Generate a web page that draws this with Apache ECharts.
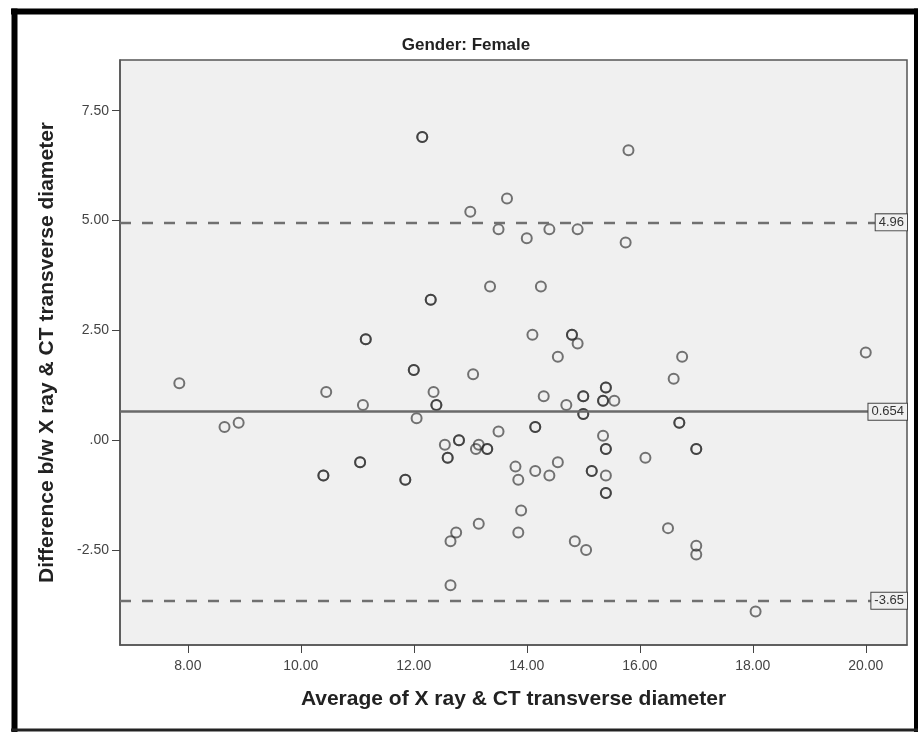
<!DOCTYPE html>
<html>
<head>
<meta charset="utf-8">
<title>Gender: Female</title>
<script src="https://cdn.jsdelivr.net/npm/echarts@6/dist/echarts.min.js"></script>
<style>
html, body { margin: 0; padding: 0; background: #fff; }
#main { width: 919px; height: 733px; }
</style>
</head>
<body>
<div id="main"></div>
<script>
// averages (x) and differences (y), darker rings are listed twice
var avgValues = [
	7.85, 8.65, 8.9, 10.4, 10.4, 10.45, 11.05, 11.05, 11.1, 11.15, 11.15,
	11.85, 11.85, 12.0, 12.0, 12.05, 12.15, 12.15, 12.3, 12.3, 12.35, 12.4, 12.4,
	12.55, 12.6, 12.6, 12.65, 12.65, 12.75, 12.8, 12.8, 13.0, 13.05, 13.1, 13.15,
	13.15, 13.3, 13.3, 13.35, 13.5, 13.5, 13.65, 13.8, 13.85, 13.85, 13.9, 14.0,
	14.1, 14.15, 14.15, 14.15, 14.25, 14.3, 14.4, 14.4, 14.55, 14.55, 14.7, 14.8,
	14.8, 14.85, 14.9, 14.9, 15.0, 15.0, 15.0, 15.0, 15.05, 15.15, 15.15, 15.35,
	15.35, 15.35, 15.4, 15.4, 15.4, 15.4, 15.4, 15.4, 15.4, 15.55, 15.75, 15.8,
	16.1, 16.5, 16.6, 16.7, 16.7, 16.75, 17.0, 17.0, 17.0, 17.0, 18.05, 20.0
];
var diffValues = [
	1.3, 0.3, 0.4, -0.8, -0.8, 1.1, -0.5, -0.5, 0.8, 2.3, 2.3,
	-0.9, -0.9, 1.6, 1.6, 0.5, 6.9, 6.9, 3.2, 3.2, 1.1, 0.8, 0.8,
	-0.1, -0.4, -0.4, -2.3, -3.3, -2.1, 0.0, 0.0, 5.2, 1.5, -0.2, -0.1,
	-1.9, -0.2, -0.2, 3.5, 4.8, 0.2, 5.5, -0.6, -0.9, -2.1, -1.6, 4.6,
	2.4, 0.3, 0.3, -0.7, 3.5, 1.0, 4.8, -0.8, 1.9, -0.5, 0.8, 2.4,
	2.4, -2.3, 4.8, 2.2, 1.0, 1.0, 0.6, 0.6, -2.5, -0.7, -0.7, 0.9,
	0.9, 0.1, 1.2, 1.2, -0.2, -0.2, -0.8, -1.2, -1.2, 0.9, 4.5, 6.6,
	-0.4, -2.0, 1.4, 0.4, 0.4, 1.9, -0.2, -0.2, -2.4, -2.6, -3.9, 2.0
];
var xTicks = [8, 10, 12, 14, 16, 18, 20];
var yTicks = [-2.5, 0, 2.5, 5, 7.5];
var meanDiff = 0.654;
var upperLimit = 4.96;
var lowerLimit = -3.65;

function tickText(v) {
	if (v === 0) return '.00';
	return v.toFixed(2);
}

function buildChart()
{
	var myChart = echarts.init(document.getElementById('main'));

	var points = [];
	for (var i = 0; i < avgValues.length; i++) {
		points.push([avgValues[i], diffValues[i]]);
	}

	var lineLabel = {
		show: true,
		position: 'insideEnd',
		distance: 0,
		color: '#333',
		fontSize: 13,
		backgroundColor: '#f0f0f0',
		borderColor: '#444',
		borderWidth: 1,
		padding: [2, 3, 1, 3]
	};

	var option = {
		animation: false,
		backgroundColor: '#fff',
		textStyle: { fontFamily: 'Liberation Sans' },
		title: {
			text: 'Gender: Female',
			left: 466,
			top: 37,
			padding: 0,
			textAlign: 'center',
			textStyle: { fontSize: 17, fontWeight: 'bold', color: '#222' }
		},
		grid: {
			left: 120,
			right: 12,
			top: 60,
			bottom: 88,
			show: true,
			backgroundColor: '#f0f0f0',
			borderColor: '#555',
			borderWidth: 1.5
		},
		xAxis: {
			type: 'value',
			min: 6.8,
			max: 20.73,
			name: 'Average of X ray & CT transverse diameter',
			nameLocation: 'middle',
			nameGap: 44,
			nameTextStyle: { fontSize: 21, fontWeight: 'bold', color: '#222' },
			axisLine: { show: true, onZero: false, lineStyle: { color: '#555', width: 1.5 } },
			axisTick: { show: true, length: 8, customValues: xTicks, lineStyle: { color: '#444' } },
			axisLabel: { customValues: xTicks, formatter: tickText, color: '#444', fontSize: 14, margin: 14 },
			splitLine: { show: false }
		},
		yAxis: {
			type: 'value',
			min: -4.66,
			max: 8.655,
			name: 'Difference b/w X ray & CT transverse diameter',
			nameLocation: 'middle',
			nameGap: 62,
			nameTextStyle: { fontSize: 21, fontWeight: 'bold', color: '#222' },
			axisLine: { show: true, onZero: false, lineStyle: { color: '#555', width: 1.5 } },
			axisTick: { show: true, length: 8, customValues: yTicks, lineStyle: { color: '#444' } },
			axisLabel: { customValues: yTicks, formatter: tickText, color: '#444', fontSize: 14, margin: 11 },
			splitLine: { show: false }
		},
		series: [
			{
				type: 'scatter',
				symbol: 'circle',
				symbolSize: 10,
				itemStyle: {
					color: 'rgba(0,0,0,0)',
					borderColor: 'rgba(40,40,40,0.8)',
					borderWidth: 2
				},
				data: points,
				markLine: {
					silent: true,
					symbol: 'none',
					animation: false,
					data: [
						{ yAxis: upperLimit, lineStyle: { type: [11, 11], color: '#707070', width: 2.3 },
							label: Object.assign({}, lineLabel, { formatter: String(upperLimit) }) },
						{ yAxis: meanDiff, lineStyle: { type: 'solid', color: '#6a6a6a', width: 2.5 },
							label: Object.assign({}, lineLabel, { formatter: String(meanDiff) }) },
						{ yAxis: lowerLimit, lineStyle: { type: [11, 11], color: '#707070', width: 2.3 },
							label: Object.assign({}, lineLabel, { formatter: String(lowerLimit) }) }
					]
				}
			}
		],
		graphic: [
			// black frame round the whole picture
			{ type: 'line', shape: { x1: 11, y1: 11.5, x2: 918, y2: 11.5 }, style: { stroke: '#000', lineWidth: 6 } },
			{ type: 'line', shape: { x1: 14.5, y1: 8.5, x2: 14.5, y2: 732 }, style: { stroke: '#000', lineWidth: 6 } },
			{ type: 'line', shape: { x1: 916, y1: 8.5, x2: 916, y2: 732 }, style: { stroke: '#000', lineWidth: 4 } },
			{ type: 'line', shape: { x1: 11, y1: 730, x2: 918, y2: 730 }, style: { stroke: '#222', lineWidth: 3 } }
		]
	};

	myChart.setOption(option);
}

buildChart();
</script>
</body>
</html>
